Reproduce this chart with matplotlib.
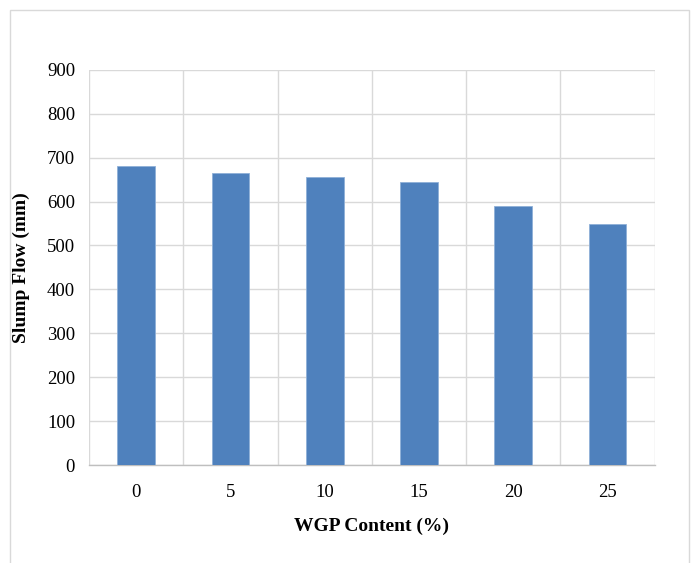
import matplotlib
matplotlib.use("Agg")
import matplotlib.pyplot as plt
from matplotlib.patches import Rectangle
import numpy as np

categories = ["0", "5", "10", "15", "20", "25"]
slump_flow = [680, 666, 656, 644, 589, 549]
y_ticks = [0, 100, 200, 300, 400, 500, 600, 700, 800, 900]

plt.rcParams['font.family'] = ['Liberation Serif', 'DejaVu Serif']

fig = plt.figure(figsize=(6.95, 5.63), dpi=100)
ax = fig.add_axes([0.128, 0.174, 0.814, 0.702])

x = np.arange(len(categories))
ax.bar(x, slump_flow, width=0.4, color="#4f81bd", edgecolor="#8fb0d8", linewidth=0.6, zorder=3)

ax.set_xlim(-0.5, len(categories) - 0.5)
ax.set_ylim(0, 900)
ax.set_yticks(y_ticks)
ax.set_xticks(x)
ax.set_xticklabels(categories)
ax.set_xticks(np.arange(-0.5, len(categories), 1.0), minor=True)

ax.grid(axis='y', which='major', color="#d9d9d9", linewidth=1, zorder=0)
ax.grid(axis='x', which='minor', color="#d9d9d9", linewidth=1, zorder=0)
ax.tick_params(axis='both', which='both', length=0, labelsize=13.5)
ax.tick_params(axis='x', pad=14)
ax.tick_params(axis='y', pad=10)

for s in ['top', 'right', 'left']:
    ax.spines[s].set_visible(False)
ax.spines['bottom'].set_color("#bfbfbf")
ax.spines['bottom'].set_linewidth(1)

ax.set_xlabel("WGP Content (%)", fontsize=14, fontweight='bold', labelpad=12)
ax.set_ylabel("Slump Flow (mm)", fontsize=14, fontweight='bold', labelpad=12)

# outer frame
fig.patches.append(Rectangle((0.014, -0.05), 0.978, 1.033, transform=fig.transFigure,
                             fill=False, edgecolor="#d9d9d9", linewidth=1))

fig.savefig("out.png", dpi=100)
